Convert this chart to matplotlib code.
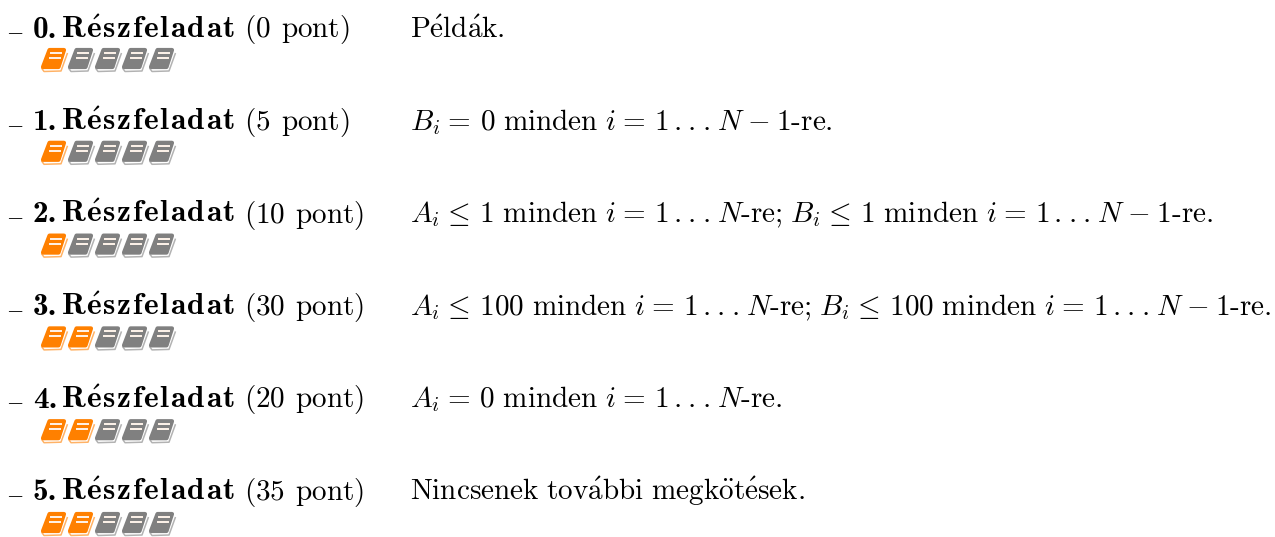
import matplotlib
matplotlib.use('agg')
import matplotlib.pyplot as plt
from matplotlib.patches import Polygon

DOTS = r'\,.\hspace{0.05}.\hspace{0.05}.\hspace{0.07}'
LE = r'\hspace{0.07}\leq\hspace{0.17}'
EQ = r'\hspace{0.07}=\hspace{0.17}'
MINUS = r'\hspace{0.05}-\hspace{0.05}'
SEMI = r'\mathrm{\text{-}re;}\hspace{0.1}'
task_numbers = [0, 1, 2, 3, 4, 5]
task_points = [0, 5, 10, 30, 20, 35]
filled_icons = [1, 1, 1, 2, 2, 2]
constraints = [
    r'$\mathrm{P\acute{e}ld\acute{a}k.}$',
    r'$B_i' + EQ + r'0\ \mathrm{minden}\ i' + EQ + '1' + DOTS + 'N' + MINUS + r'1\mathrm{\text{-}re.}$',
    r'$A_i' + LE + r'1\ \mathrm{minden}\ i' + EQ + '1' + DOTS + 'N' + SEMI + 'B_i' + LE + r'1\ \mathrm{minden}\ i' + EQ + '1' + DOTS + 'N' + MINUS + r'1\mathrm{\text{-}re.}$',
    r'$A_i' + LE + r'100\ \mathrm{minden}\ i' + EQ + '1' + DOTS + 'N' + SEMI + 'B_i' + LE + r'100\ \mathrm{minden}\ i' + EQ + '1' + DOTS + 'N' + MINUS + r'1\mathrm{\text{-}re.}$',
    r'$A_i' + EQ + r'0\ \mathrm{minden}\ i' + EQ + '1' + DOTS + r'N\mathrm{\text{-}re.}$',
    r'$\mathrm{Nincsenek\ tov\acute{a}bbi\ megk\ddot{o}t\acute{e}sek.}$',
]
title_letters = ['R', r'\acute{e}', 's', 'z', 'f', 'e', 'l', 'a', 'd', 'a', 't']

ORANGE = '#ff8000'
GREY = '#808080'
FS = 21
FS_BOLD = 22.5

plt.rcParams['mathtext.fontset'] = 'cm'
plt.rcParams['font.family'] = 'cmr10'
plt.rcParams['axes.formatter.use_mathtext'] = True


def draw_book(ax, x, y, color):
    # lower page edge
    ax.add_patch(Polygon([(x + 27.5, y + 5), (x + 21, y + 23), (x + 4, y + 23.5), (x + 1.5, y + 20)],
                         closed=False, fill=False, edgecolor=color, alpha=0.6, lw=1.1, joinstyle='round'))
    # cover
    ax.add_patch(Polygon([(x + 9.5, y + 2), (x + 24, y + 2), (x + 18.5, y + 19), (x + 3, y + 19)],
                         closed=True, facecolor=color, edgecolor=color, lw=3, joinstyle='round'))
    # title lines
    ax.plot([x + 11, x + 21], [y + 5, y + 5], color='#fff4ea', lw=1.4)
    ax.plot([x + 9.5, x + 20], [y + 10, y + 10], color='#fff4ea', lw=1.4)


fig, ax = plt.subplots(figsize=(12.75, 5.37), dpi=100)
ax.set_position([0, 0, 1, 1])
ax.set_xlim(0, 1275)
ax.set_ylim(537, 0)
ax.axis('off')

title = '$\\mathbf{' + r'\hspace{0.062}'.join(title_letters) + '}$'
for i, num in enumerate(task_numbers):
    base = 37.5 + i * 92.5
    ax.text(5.5, base, '$\\mathrm{-}$', fontsize=16, va='baseline')
    ax.text(33, base, '%d.' % num, family='cmb10', fontsize=FS_BOLD, va='baseline')
    ax.text(61, base, title, fontsize=FS_BOLD, va='baseline')
    ax.text(243.5, base, r'$\mathrm{(%d\ \hspace{0.1}pont)}$' % task_points[i], fontsize=FS, va='baseline')
    ax.text(410.5, base, constraints[i], fontsize=FS, va='baseline')
    for k in range(5):
        draw_book(ax, 40 + k * 27, 48 + i * 92.8, ORANGE if k < filled_icons[i] else GREY)

plt.savefig('out.png', dpi=100)
plt.close(fig)
